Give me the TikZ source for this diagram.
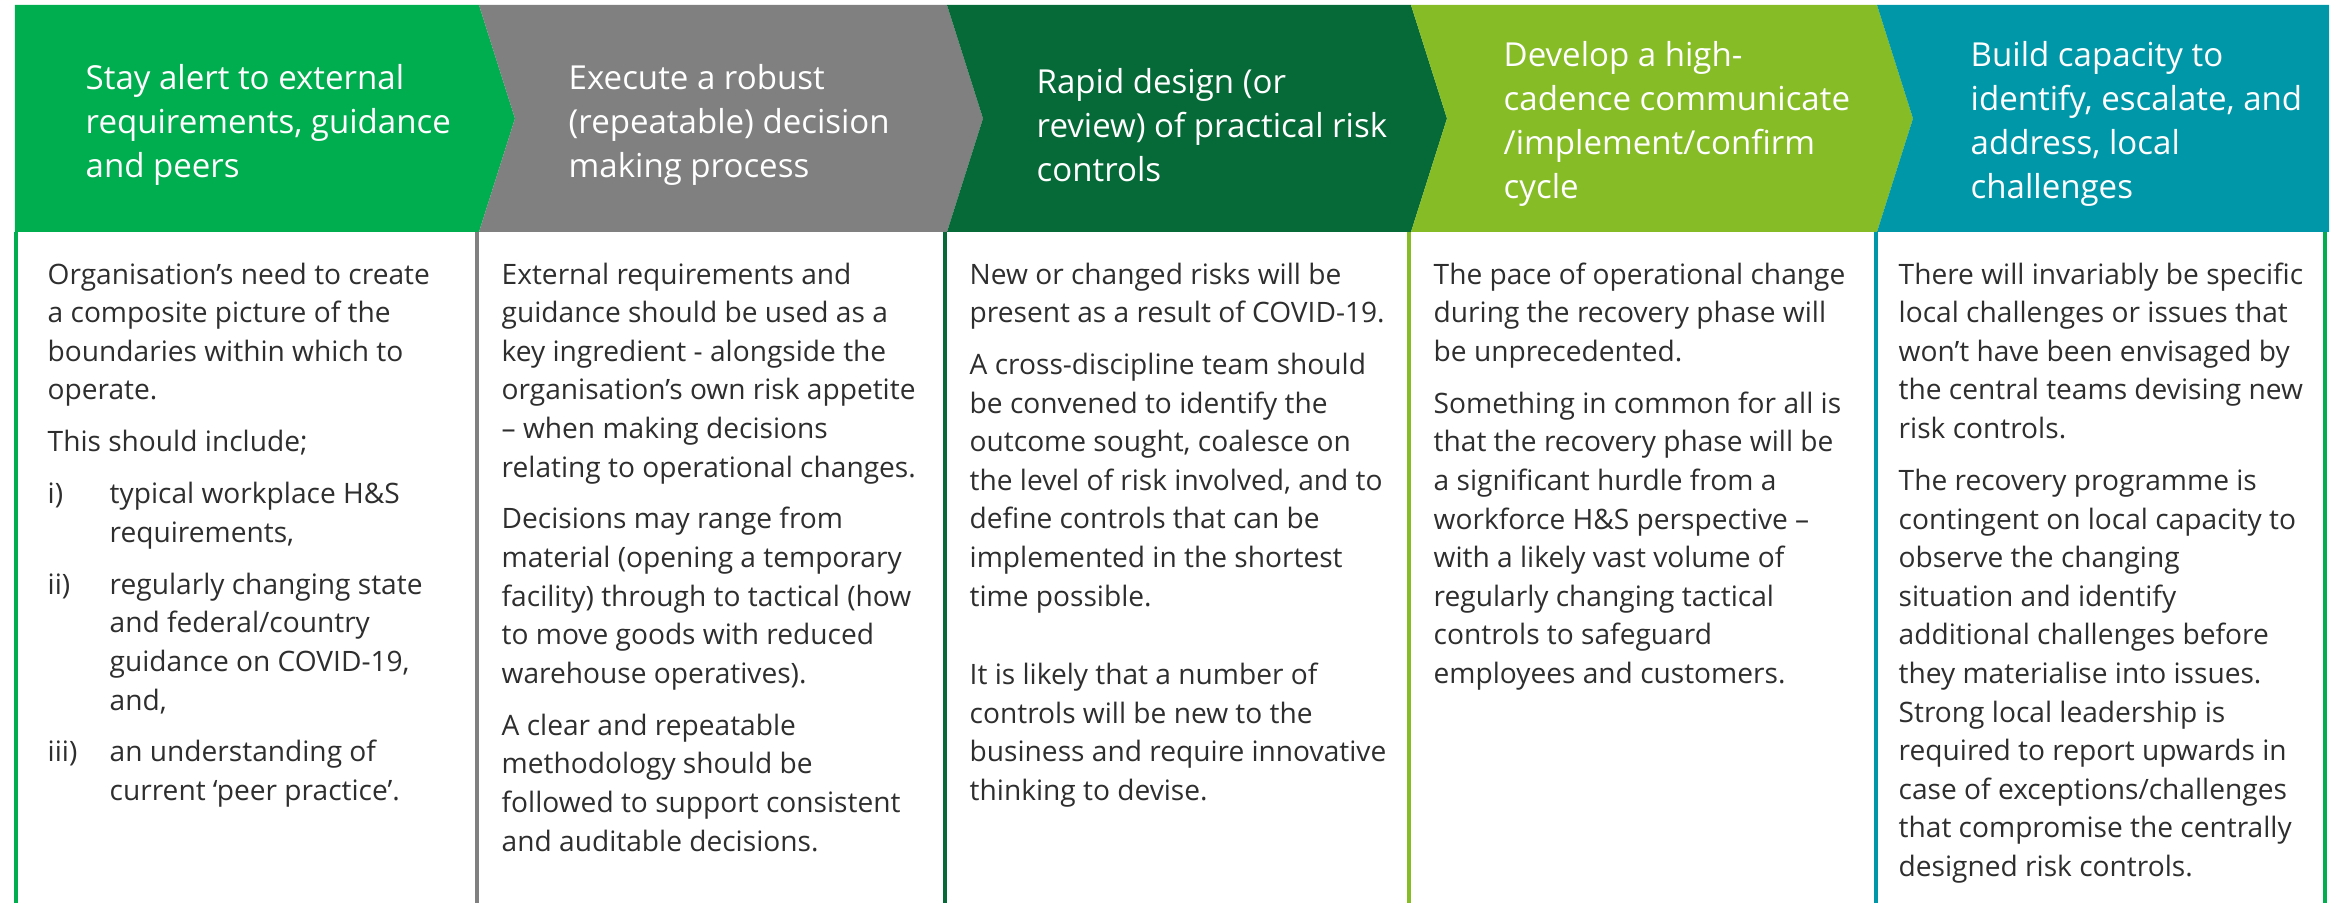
\documentclass[tikz,border=0pt]{standalone}
\usepackage{fontspec}
\setmainfont{Open Sans}
\usetikzlibrary{positioning}

\definecolor{stagegreen}{HTML}{00AD4F}
\definecolor{stagegray}{HTML}{808080}
\definecolor{stagedark}{HTML}{056A38}
\definecolor{stagelime}{HTML}{86BC25}
\definecolor{stageteal}{HTML}{0097A9}

\newcommand\headfont{\fontsize{9.4}{12.5}\selectfont}
\newcommand\bodyfont{\fontsize{8}{10.98}\selectfont}
\newcommand\pgap{3.8pt}
\newcommand\itemlabel[1]{\makebox[0.62cm][l]{#1}}
\newcommand\itemrest{\hspace*{0.62cm}}

\tikzset{
	head/.style={text=white,font=\headfont,align=left,anchor=west,inner sep=0pt},
	body/.style={text=black!82,font=\bodyfont,align=left,anchor=north west,inner sep=0pt},
	rule/.style={line width=1.1pt}
}

\begin{document}
\begin{tikzpicture}
	\useasboundingbox (0,0) rectangle (23.31,9.03);
	
	% chevron bar
	\fill[stagegreen] (0.15,8.98) -- (4.79,8.98) -- (5.15,7.845) -- (4.79,6.71) -- (0.15,6.71) -- cycle;
	\fill[stagegray] (4.79,8.98) -- (9.47,8.98) -- (9.83,7.845) -- (9.47,6.71) -- (4.79,6.71) -- (5.15,7.845) -- cycle;
	\fill[stagedark] (9.47,8.98) -- (14.11,8.98) -- (14.47,7.845) -- (14.11,6.71) -- (9.47,6.71) -- (9.83,7.845) -- cycle;
	\fill[stagelime] (14.11,8.98) -- (18.77,8.98) -- (19.13,7.845) -- (18.77,6.71) -- (14.11,6.71) -- (14.47,7.845) -- cycle;
	\fill[stageteal] (18.77,8.98) -- (23.29,8.98) -- (23.29,6.71) -- (18.77,6.71) -- (19.13,7.845) -- cycle;
	
	\node[head] (h1) at (0.85,7.78) {Stay alert to external\\requirements, guidance\\and peers};
	\node[head] (h2) at (5.68,7.78) {Execute a robust\\(repeatable) decision\\making process};
	\node[head] (h3) at (10.36,7.78) {Rapid design (or\\review) of practical risk\\controls};
	\node[head] (h4) at (15.03,7.79) {Develop a high-\\cadence communicate\\/implement/confirm\\cycle};
	\node[head] (h5) at (19.70,7.79) {Build capacity to\\identify, escalate, and\\address, local\\challenges};
	
	% column rules
	\draw[rule,stagegreen] (0.16,6.71) -- (0.16,0);
	\draw[rule,stagegray] (4.77,6.71) -- (4.77,0);
	\draw[rule,stagedark] (9.45,6.71) -- (9.45,0);
	\draw[rule,stagelime] (14.09,6.71) -- (14.09,0);
	\draw[rule,stageteal] (18.76,6.71) -- (18.76,0);
	\draw[rule,stagegreen] (23.25,6.71) -- (23.25,0);
	
	\node[body] (b1) at (0.47,6.41) {Organisation’s need to create\\
		a composite picture of the\\
		boundaries within which to\\
		operate.\\[\pgap]
		This should include;\\[\pgap]
		\itemlabel{i)}typical workplace H\&S\\
		\itemrest requirements,\\[\pgap]
		\itemlabel{ii)}regularly changing state\\
		\itemrest and federal/country\\
		\itemrest guidance on COVID-19,\\
		\itemrest and,\\[\pgap]
		\itemlabel{iii)}an understanding of\\
		\itemrest current ‘peer practice’.};
	\node[body] (b2) at (5.01,6.41) {External requirements and\\
		guidance should be used as a\\
		key ingredient - alongside the\\
		organisation’s own risk appetite\\
		– when making decisions\\
		relating to operational changes.\\[\pgap]
		Decisions may range from\\
		material (opening a temporary\\
		facility) through to tactical (how\\
		to move goods with reduced\\
		warehouse operatives).\\[\pgap]
		A clear and repeatable\\
		methodology should be\\
		followed to support consistent\\
		and auditable decisions.};
	\node[body] (b3) at (9.69,6.41) {New or changed risks will be\\
		present as a result of COVID-19.\\[\pgap]
		A cross-discipline team should\\
		be convened to identify the\\
		outcome sought, coalesce on\\
		the level of risk involved, and to\\
		define controls that can be\\
		implemented in the shortest\\
		time possible.\\[11.4pt]
		It is likely that a number of\\
		controls will be new to the\\
		business and require innovative\\
		thinking to devise.};
	\node[body] (b4) at (14.33,6.41) {The pace of operational change\\
		during the recovery phase will\\
		be unprecedented.\\[\pgap]
		Something in common for all is\\
		that the recovery phase will be\\
		a significant hurdle from a\\
		workforce H\&S perspective –\\
		with a likely vast volume of\\
		regularly changing tactical\\
		controls to safeguard\\
		employees and customers.};
	\node[body] (b5) at (18.98,6.41) {There will invariably be specific\\
		local challenges or issues that\\
		won’t have been envisaged by\\
		the central teams devising new\\
		risk controls.\\[\pgap]
		The recovery programme is\\
		contingent on local capacity to\\
		observe the changing\\
		situation and identify\\
		additional challenges before\\
		they materialise into issues.\\
		Strong local leadership is\\
		required to report upwards in\\
		case of exceptions/challenges\\
		that compromise the centrally\\
		designed risk controls.};
\end{tikzpicture}
\end{document}
